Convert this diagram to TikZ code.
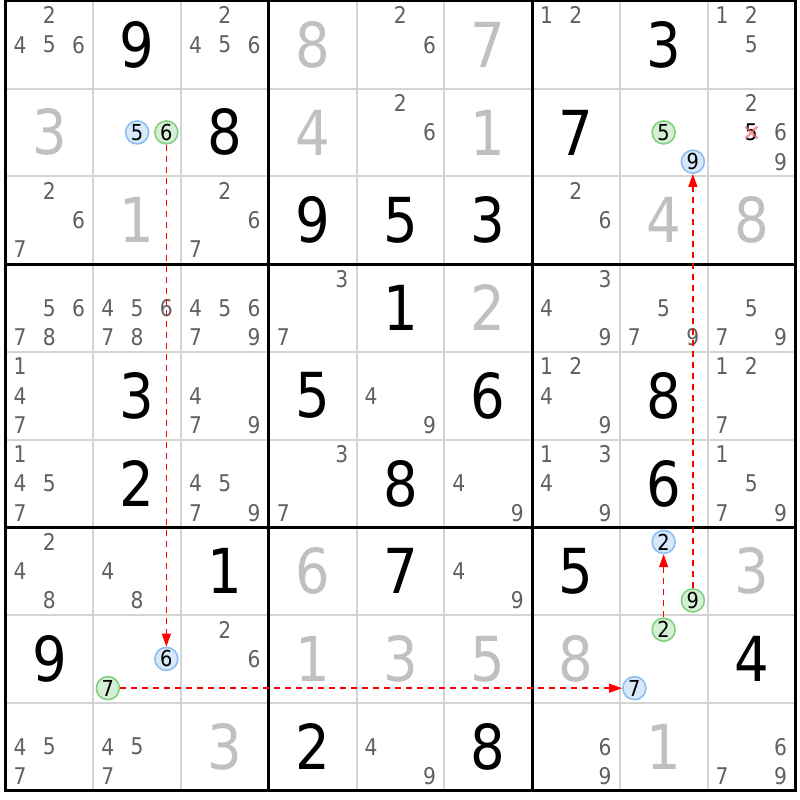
\documentclass[tikz,border=0pt]{standalone}
\usepackage{fontspec}
\setmainfont[FakeStretch=0.88]{DejaVu Sans}
\usetikzlibrary{arrows.meta}
\definecolor{gridgray}{RGB}{212,212,212}
\definecolor{solvedgray}{RGB}{192,192,192}
\definecolor{pencilgray}{RGB}{96,96,96}
\definecolor{bluefill}{RGB}{214,232,250}
\definecolor{blueline}{RGB}{140,190,240}
\definecolor{greenfill}{RGB}{214,240,214}
\definecolor{greenline}{RGB}{128,208,128}
\definecolor{xred}{RGB}{240,110,110}
\tikzset{
  given/.style={text=black, font=\fontsize{62}{62}\selectfont, inner sep=0pt},
  solved/.style={text=solvedgray, font=\fontsize{62}{62}\selectfont, inner sep=0pt},
  pencil/.style={text=pencilgray, font=\fontsize{23}{23}\selectfont, inner sep=0pt},
  crossed/.style={text=black, font=\fontsize{23}{23}\selectfont, inner sep=0pt},
  bluecand/.style={circle, draw=blueline, fill=bluefill, line width=1.6pt, minimum size=23pt, inner sep=0pt, text=black, font=\fontsize{22}{22}\selectfont},
  greencand/.style={circle, draw=greenline, fill=greenfill, line width=1.6pt, minimum size=23pt, inner sep=0pt, text=black, font=\fontsize{22}{22}\selectfont},
  link/.style={color=red, line width=1.4pt, dash pattern=on 6pt off 5pt, -{Triangle[length=13pt,width=9pt]}},
  thingrid/.style={draw=gridgray, line width=2pt},
  thickgrid/.style={draw=black, line width=3pt},
  crossmark/.style={draw=xred, line width=2.5pt, opacity=0.7}
}
% digit centred in cell: style, row, col, digit
\newcommand\celldigit[4]{\node[#1] (d#2#3) at ({5.5+(#3-0.5)*87.75},{0.8+(#2-0.5)*87.75}) {#4};}
% candidate node: style, name, row, col, digit
\newcommand\candnode[5]{%
  \pgfmathsetmacro\candx{5.5+(#4-1)*87.75+(2*mod(#5-1,3)+1)*87.75/6}%
  \pgfmathsetmacro\candy{0.8+(#3-1)*87.75+(2*div(#5-1,3)+1)*87.75/6}%
  \node[#1] (#2) at (\candx,\candy) {#5};}
\newcommand\candlist[3]{\foreach \dd in {#3}{\candnode{pencil}{p#1#2\dd}{#1}{#2}{\dd}}}
\begin{document}
\begin{tikzpicture}[x=1pt,y=-1pt]
\useasboundingbox (0,0) rectangle (800,800);
\fill[white] (0,0) rectangle (800,800);
% grid
\foreach \i in {0,...,9} {
  \draw[thingrid] ({5.5+\i*87.75},0.8) -- ({5.5+\i*87.75},790.55);
  \draw[thingrid] (5.5,{0.8+\i*87.75}) -- (795.25,{0.8+\i*87.75});
}
\foreach \i in {3,6} {
  \draw[thickgrid] ({5.5+\i*87.75},0.8) -- ({5.5+\i*87.75},790.55);
  \draw[thickgrid] (5.5,{0.8+\i*87.75}) -- (795.25,{0.8+\i*87.75});
}
\draw[thickgrid] (5.5,0.8) rectangle (795.25,790.55);
% givens
\celldigit{given}{1}{2}{9}
\celldigit{given}{1}{8}{3}
\celldigit{given}{2}{3}{8}
\celldigit{given}{2}{7}{7}
\celldigit{given}{3}{4}{9}
\celldigit{given}{3}{5}{5}
\celldigit{given}{3}{6}{3}
\celldigit{given}{4}{5}{1}
\celldigit{given}{5}{2}{3}
\celldigit{given}{5}{4}{5}
\celldigit{given}{5}{6}{6}
\celldigit{given}{5}{8}{8}
\celldigit{given}{6}{2}{2}
\celldigit{given}{6}{5}{8}
\celldigit{given}{6}{8}{6}
\celldigit{given}{7}{3}{1}
\celldigit{given}{7}{5}{7}
\celldigit{given}{7}{7}{5}
\celldigit{given}{8}{1}{9}
\celldigit{given}{8}{9}{4}
\celldigit{given}{9}{4}{2}
\celldigit{given}{9}{6}{8}
% solved
\celldigit{solved}{1}{4}{8}
\celldigit{solved}{1}{6}{7}
\celldigit{solved}{2}{1}{3}
\celldigit{solved}{2}{4}{4}
\celldigit{solved}{2}{6}{1}
\celldigit{solved}{3}{2}{1}
\celldigit{solved}{3}{8}{4}
\celldigit{solved}{3}{9}{8}
\celldigit{solved}{4}{6}{2}
\celldigit{solved}{7}{4}{6}
\celldigit{solved}{7}{9}{3}
\celldigit{solved}{8}{4}{1}
\celldigit{solved}{8}{5}{3}
\celldigit{solved}{8}{6}{5}
\celldigit{solved}{8}{7}{8}
\celldigit{solved}{9}{3}{3}
\celldigit{solved}{9}{8}{1}
% pencil marks
\candlist{1}{1}{2,4,5,6}
\candlist{1}{3}{2,4,5,6}
\candlist{1}{5}{2,6}
\candlist{1}{7}{1,2}
\candlist{1}{9}{1,2,5}
\candlist{2}{5}{2,6}
\candlist{2}{9}{2,6,9}
\candlist{3}{1}{2,6,7}
\candlist{3}{3}{2,6,7}
\candlist{3}{7}{2,6}
\candlist{4}{1}{5,6,7,8}
\candlist{4}{2}{4,5,6,7,8}
\candlist{4}{3}{4,5,6,7,9}
\candlist{4}{4}{3,7}
\candlist{4}{7}{3,4,9}
\candlist{4}{8}{5,7,9}
\candlist{4}{9}{5,7,9}
\candlist{5}{1}{1,4,7}
\candlist{5}{3}{4,7,9}
\candlist{5}{5}{4,9}
\candlist{5}{7}{1,2,4,9}
\candlist{5}{9}{1,2,7}
\candlist{6}{1}{1,4,5,7}
\candlist{6}{3}{4,5,7,9}
\candlist{6}{4}{3,7}
\candlist{6}{6}{4,9}
\candlist{6}{7}{1,3,4,9}
\candlist{6}{9}{1,5,7,9}
\candlist{7}{1}{2,4,8}
\candlist{7}{2}{4,8}
\candlist{7}{6}{4,9}
\candlist{8}{3}{2,6}
\candlist{9}{1}{4,5,7}
\candlist{9}{2}{4,5,7}
\candlist{9}{5}{4,9}
\candlist{9}{7}{6,9}
\candlist{9}{9}{6,7,9}
% eliminated candidate
\candnode{crossed}{x295}{2}{9}{5}
\draw[crossmark] (x295.center) ++(-6,-6) -- ++(12,12) ++(0,-12) -- ++(-12,12);
% highlighted candidates
\candnode{bluecand}{b225}{2}{2}{5}
\candnode{greencand}{g226}{2}{2}{6}
\candnode{greencand}{g285}{2}{8}{5}
\candnode{bluecand}{b289}{2}{8}{9}
\candnode{bluecand}{b782}{7}{8}{2}
\candnode{greencand}{g789}{7}{8}{9}
\candnode{bluecand}{b826}{8}{2}{6}
\candnode{greencand}{g827}{8}{2}{7}
\candnode{greencand}{g882}{8}{8}{2}
\candnode{bluecand}{b887}{8}{8}{7}
% links
\draw[link] (g226) -- (b826);
\draw[link] (g827) -- (b887);
\draw[link] (g789) -- (b289);
\draw[link] (g882) -- (b782);
\end{tikzpicture}
\end{document}
